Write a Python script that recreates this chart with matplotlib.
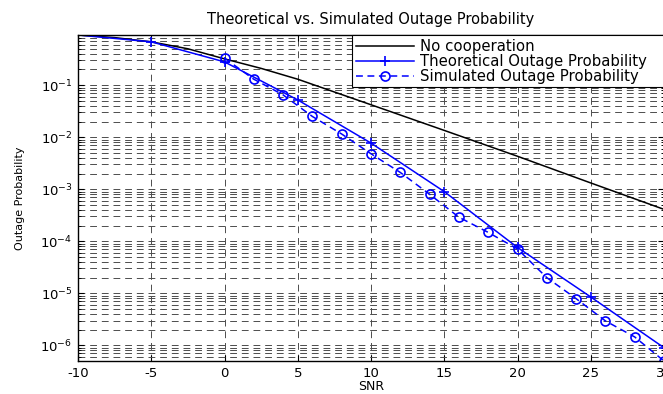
import numpy as np
import matplotlib
matplotlib.use("Agg")
import matplotlib.pyplot as plt
from matplotlib.ticker import LogLocator, NullFormatter

plt.rcParams['font.family'] = ['DejaVu Sans']
plt.rcParams['axes.unicode_minus'] = False

# SNR (dB) and outage probabilities
snr_nocoop = [-10, -7.5, -5, -2.5, 0, 2.5, 5, 10, 15, 20, 25, 30]
p_nocoop = [0.92, 0.82, 0.68, 0.5, 0.32, 0.21, 0.13, 0.042, 0.0135, 0.0043, 0.00132, 0.00041]

snr_theory = [-10, -5, 0, 5, 10, 15, 20, 25, 30]
p_theory = [0.92, 0.68, 0.28, 0.052, 0.0077, 9e-4, 7.6e-5, 8.5e-6, 9e-7]

snr_sim = [0, 2, 4, 6, 8, 10, 12, 14, 16, 18, 20, 22, 24, 26, 28, 30]
p_sim = [0.33, 0.13, 0.065, 0.025, 0.0115, 0.0048, 0.0021, 8e-4, 2.9e-4,
         1.48e-4, 7.1e-5, 2.0e-5, 7.9e-6, 2.95e-6, 1.45e-6, 5e-7]

labels = ['No cooperation', 'Theoretical Outage Probability', 'Simulated Outage Probability']

W, H = 663, 394
fig = plt.figure(figsize=(W / 100, H / 100), dpi=100)
left, right, top, bottom = 78, 664, 35, 361
ax = fig.add_axes([left / W, 1 - bottom / H, (right - left) / W, (bottom - top) / H])

ax.semilogy(snr_nocoop, p_nocoop, color='black', lw=1.1, label=labels[0])
ax.semilogy(snr_theory, p_theory, color='blue', lw=1.1, marker='+', ms=7,
            mew=1.2, label=labels[1])
ax.semilogy(snr_sim, p_sim, color='blue', lw=1.1, ls=(0, (4.5, 3)), marker='o',
            ms=6.5, mew=1.2, mfc='none', label=labels[2])

ax.set_xlim(-10, 30)
ax.set_ylim(5e-7, 0.92)
ax.set_xticks(np.arange(-10, 31, 5))
ax.yaxis.set_major_locator(LogLocator(base=10, numticks=20))
ax.yaxis.set_minor_locator(LogLocator(base=10, subs=np.arange(2, 10), numticks=20))
ax.yaxis.set_minor_formatter(NullFormatter())

grid_style = dict(color='0.3', lw=0.7, ls=(0, (7, 5)))
ax.grid(True, which='major', axis='both', **grid_style)
ax.grid(True, which='minor', axis='y', **grid_style)
ax.set_axisbelow(True)

ax.tick_params(which='both', direction='in', top=True, right=True, labelsize=9.5, pad=4)
ax.tick_params(which='major', length=4, width=0.8)
ax.tick_params(which='minor', length=2, width=0.6)
for s in ax.spines.values():
    s.set_linewidth(1.0)
    s.set_color('black')

ax.set_title('Theoretical vs. Simulated Outage Probability', fontsize=10.5, pad=8)
ax.set_xlabel('SNR', fontsize=9)
ax.xaxis.set_label_coords(0.5, -0.058)
ax.set_ylabel('Outage Probability', fontsize=8)
ax.yaxis.set_label_coords(-0.09, 0.5)

# legend box runs past the right edge of the picture, as in the cropped original
leg_x0 = (352 - left) / (right - left)
leg_w = (690 - 352) / (right - left)
leg = ax.legend(loc='upper right', bbox_to_anchor=(leg_x0, 0, leg_w, 1), mode='expand',
                fontsize=10.7, numpoints=1, handlelength=3.9,
                handletextpad=0.45, labelspacing=0.0, borderpad=0.25,
                borderaxespad=0, fancybox=False, framealpha=1, edgecolor='black')
leg.get_frame().set_linewidth(0.8)

fig.savefig('out.png', dpi=100)
